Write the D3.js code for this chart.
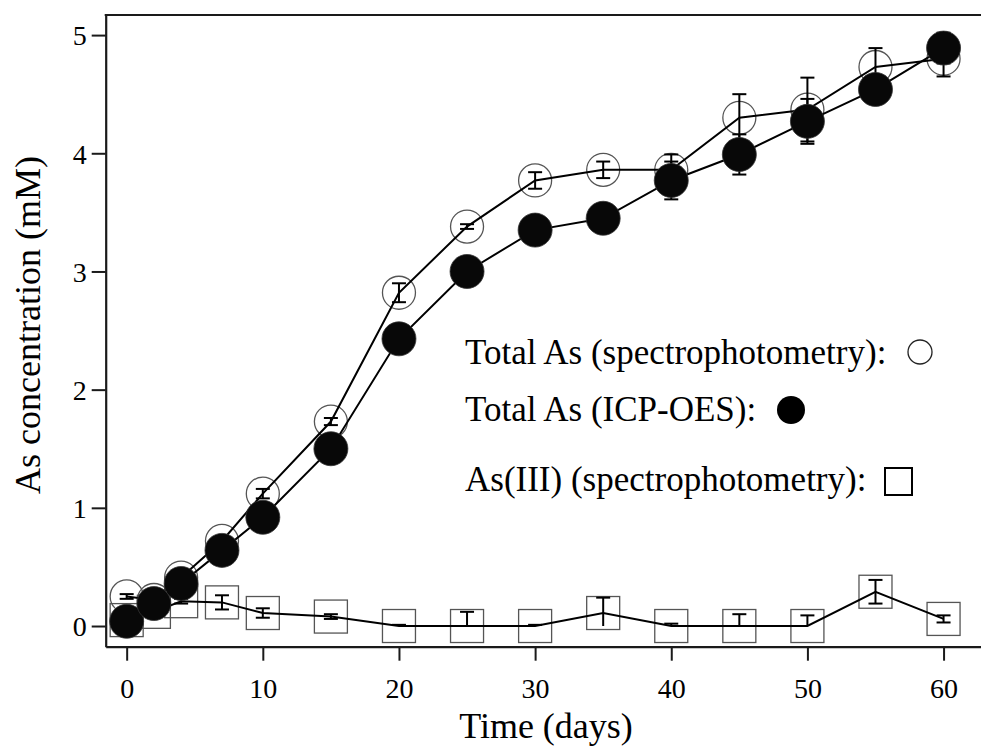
<!DOCTYPE html>
<html>
<head>
<meta charset="utf-8">
<script src="https://cdn.jsdelivr.net/npm/d3@7"></script>
<style>
  html, body { margin: 0; padding: 0; background: #fff; }
  svg { display: block; font-family: "Liberation Serif", "Times New Roman", serif; }
</style>
</head>
<body>
<svg id="chart" width="981" height="746"></svg>
<script>
// ---- data ----
const days = [0, 2, 4, 7, 10, 15, 20, 25, 30, 35, 40, 45, 50, 55, 60];
const totalSpec    = [0.25, 0.22, 0.41, 0.72, 1.12, 1.73, 2.82, 3.38, 3.77, 3.86, 3.86, 4.30, 4.37, 4.73, 4.80];
const totalSpecErr = [0.02, 0.02, 0.02, 0.02, 0.04, 0.03, 0.08, 0.02, 0.07, 0.07, 0.13, 0.20, 0.27, 0.16, 0.15];
const totalIcp     = [0.04, 0.19, 0.36, 0.64, 0.92, 1.50, 2.43, 3.00, 3.35, 3.45, 3.77, 3.99, 4.27, 4.54, 4.89];
const totalIcpErr  = [0.02, 0.02, 0.02, 0.02, 0.03, 0.03, 0.05, 0.03, 0.04, 0.04, 0.16, 0.17, 0.19, 0.10, 0.13];
const as3          = [0.05, 0.12, 0.21, 0.20, 0.11, 0.08, 0.00, 0.00, 0.00, 0.11, 0.00, 0.00, 0.00, 0.29, 0.06];
const as3Err       = [0.02, 0.02, 0.02, 0.06, 0.04, 0.02, 0.01, 0.12, 0.01, 0.13, 0.02, 0.10, 0.09, 0.10, 0.03];
const xTicks = [0, 10, 20, 30, 40, 50, 60];
const yTicks = [0, 1, 2, 3, 4, 5];
const xTitle = "Time (days)";
const yTitle = "As concentration (mM)";
const legendLabels = ["Total As (spectrophotometry):", "Total As (ICP-OES):", "As(III) (spectrophotometry):"];

// ---- layout ----
const svg = d3.select("#chart");
const plotL = 105.7, plotR = 981, plotT = 15, plotB = 646.7;
const x = d3.scaleLinear().domain([-1.54, 62.75]).range([plotL, plotR]);
const y = d3.scaleLinear().domain([-0.175, 5.17]).range([plotB, plotT]);

const axisColor = "#1a1a1a";

// x axis
const gx = svg.append("g").attr("transform", `translate(0,${plotB})`)
  .call(d3.axisBottom(x).tickValues(xTicks).tickSize(14).tickSizeOuter(0).tickFormat(d3.format("d")));
gx.select(".domain").attr("stroke", axisColor).attr("stroke-width", 2.2);
gx.selectAll(".tick line").attr("stroke", axisColor).attr("stroke-width", 2);
gx.selectAll(".tick text").attr("y", 51.3).attr("dy", 0)
  .attr("font-size", 28).attr("fill", "#000").attr("font-family", "Liberation Serif, Times New Roman, serif");

// y axis
const gy = svg.append("g").attr("transform", `translate(${plotL},0)`)
  .call(d3.axisLeft(y).tickValues(yTicks).tickSize(14).tickSizeOuter(0).tickFormat(d3.format("d")));
gy.select(".domain").attr("stroke", axisColor).attr("stroke-width", 2.2);
gy.selectAll(".tick line").attr("stroke", axisColor).attr("stroke-width", 2);
gy.selectAll(".tick text").attr("x", -19).attr("dy", "0.35em")
  .attr("font-size", 28).attr("fill", "#000").attr("font-family", "Liberation Serif, Times New Roman, serif");

// top frame line
svg.append("line")
  .attr("x1", x.range()[0] - 1).attr("x2", x.range()[1])
  .attr("y1", y.range()[1]).attr("y2", y.range()[1])
  .attr("stroke", axisColor).attr("stroke-width", 2.2);

// titles
svg.append("text").attr("x", 546).attr("y", 738).attr("text-anchor", "middle")
  .attr("font-size", 36).text(xTitle);
svg.append("text").attr("transform", "translate(40,325) rotate(-90)").attr("text-anchor", "middle")
  .attr("font-size", 36).text(yTitle);

// helpers
const line = d3.line().x(d => x(d[0])).y(d => y(d[1]));
function pts(vals) { return days.map((d, i) => [d, vals[i]]); }
function drawLine(vals) {
  svg.append("path").datum(pts(vals)).attr("d", line)
    .attr("fill", "none").attr("stroke", "#000").attr("stroke-width", 2);
}
function drawErr(vals, errs) {
  const cap = 7;
  const g = svg.append("g").attr("stroke", "#000").attr("stroke-width", 2);
  days.forEach((d, i) => {
    const v = vals[i], e = errs[i];
    const lo = Math.max(0, v - e), hi = v + e;
    const cx = x(d);
    g.append("line").attr("x1", cx).attr("x2", cx).attr("y1", y(lo)).attr("y2", y(hi));
    g.append("line").attr("x1", cx - cap).attr("x2", cx + cap).attr("y1", y(hi)).attr("y2", y(hi));
    if (v - e >= 0) {
      g.append("line").attr("x1", cx - cap).attr("x2", cx + cap).attr("y1", y(lo)).attr("y2", y(lo));
    }
  });
}

// As(III) squares
const sq = 33;
svg.append("g").selectAll("rect").data(pts(as3)).join("rect")
  .attr("x", d => x(d[0]) - sq / 2).attr("y", d => y(d[1]) - sq / 2)
  .attr("width", sq).attr("height", sq)
  .attr("fill", "none").attr("stroke", "#555").attr("stroke-width", 1.3);
drawLine(as3);
drawErr(as3, as3Err);

// Total As spectrophotometry (open circles)
svg.append("g").selectAll("circle").data(pts(totalSpec)).join("circle")
  .attr("cx", d => x(d[0])).attr("cy", d => y(d[1])).attr("r", 16.5)
  .attr("fill", "none").attr("stroke", "#555").attr("stroke-width", 1.3);
drawLine(totalSpec);
drawErr(totalSpec, totalSpecErr);

// Total As ICP-OES (filled circles)
drawLine(totalIcp);
drawErr(totalIcp, totalIcpErr);
svg.append("g").selectAll("circle").data(pts(totalIcp)).join("circle")
  .attr("cx", d => x(d[0])).attr("cy", d => y(d[1])).attr("r", 17)
  .attr("fill", "#080808").attr("stroke", "#333").attr("stroke-width", 0.8);

// legend
const legY = [364, 421, 491];
legendLabels.forEach((t, i) => {
  svg.append("text").attr("x", 465).attr("y", legY[i]).attr("font-size", 35).text(t);
});
svg.append("circle").attr("cx", 920).attr("cy", 352).attr("r", 12)
  .attr("fill", "none").attr("stroke", "#222").attr("stroke-width", 1.3);
svg.append("circle").attr("cx", 791).attr("cy", 410).attr("r", 14).attr("fill", "#000");
svg.append("rect").attr("x", 885).attr("y", 468).attr("width", 27).attr("height", 27)
  .attr("fill", "none").attr("stroke", "#000").attr("stroke-width", 2);
</script>
</body>
</html>
